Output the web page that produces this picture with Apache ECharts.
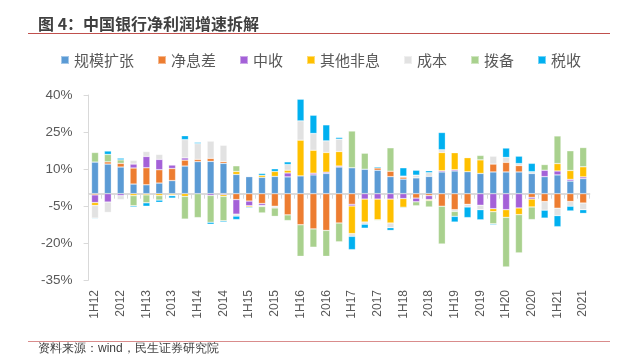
<!DOCTYPE html>
<html>
<head>
<meta charset="utf-8">
<script src="https://cdn.jsdelivr.net/npm/echarts@6/dist/echarts.min.js"></script>
<style>
html,body{margin:0;padding:0;background:#fff;}
#c{width:618px;height:360px;}
</style>
</head>
<body>
<div id="c"></div>
<script>
const categories = ['1H12','3Q12','2012','1Q13','1H13','3Q13','2013','1Q14','1H14','3Q14','2014','1Q15','1H15','3Q15','2015','1Q16','1H16','3Q16','2016','1Q17','1H17','3Q17','2017','1Q18','1H18','3Q18','2018','1Q19','1H19','3Q19','2019','1Q20','1H20','3Q20','2020','1Q21','1H21','3Q21','2021'];
const seriesNames = ['规模扩张','净息差','中收','其他非息','成本','拨备','税收'];
const scale = [12.8,12.0,10.8,3.9,3.6,4.3,5.3,11.2,13.0,13.1,12.3,7.8,6.9,6.6,7.0,6.8,7.2,7.6,8.2,10.8,10.5,9.9,9.5,6.9,5.9,6.4,7.0,8.8,9.2,8.9,8.2,8.8,8.8,8.8,8.2,6.9,7.6,5.1,6.1];
const nim = [-0.5,0.9,1.5,6.5,6.9,5.4,4.9,2.4,0.9,1.2,0.7,-2.4,-3.0,-4.0,-5.1,-8.6,-12.6,-14.3,-14.9,-11.9,-4.3,0,0.9,2.2,0.8,-1.8,-0.8,-5.1,-6.5,-4.3,0,3.2,3.9,2.6,-1.5,-3.2,-5.9,-3.2,-3.8];
const fee = [-3.1,-3.4,-0.8,1.6,4.6,4.2,1.4,0.9,0,-0.7,-0.4,-5.9,-1.9,-0.8,0,1.6,0,0.7,0.5,0.4,-0.7,-2.2,-2.2,-2.2,-2.0,-1.5,-1.6,0.5,0.5,0,-4.7,-6.1,-6.5,-5.8,-0.7,2.6,1.6,0.7,0.7];
const otherNonInt = [-1.2,0,0,-0.8,-0.5,-0.8,-0.5,-1.1,0,0,-0.7,1.2,-0.5,0.8,2.0,1.1,14.5,9.3,8.0,5.9,-11.2,-9.3,-8.4,-9.7,-3.5,0,-0.4,7.4,6.9,5.7,5.5,-1.2,-3.1,-2.7,-3.2,0,3.0,3.6,4.1];
const cost = [-5.1,-4.2,-1.6,1.5,2.0,2.0,-0.3,7.4,6.4,7.0,6.6,-0.8,0,-0.4,-0.7,2.3,7.8,6.8,4.7,5.0,-1.1,-0.9,0,-1.9,0.4,1.1,1.5,1.1,-0.7,-1.1,-1.8,3.2,2.0,0.8,0.7,-3.5,-3.0,-1.9,-2.7];
const provision = [3.9,3.0,1.4,-4.1,-3.2,-1.8,0,-9.2,-9.7,-10.9,-9.9,2.3,0,-2.6,-3.4,-2.3,-12.8,-7.4,-10.5,-7.6,14.9,6.5,-0.3,9.5,-0.4,-1.6,-2.6,-15.3,-2.0,0,1.8,-4.9,-20.1,-15.5,-5.1,2.3,11.2,8.0,7.8];
const tax = [-0.3,1.4,0.7,-0.5,-1.4,-0.9,-1.0,1.6,0.5,-0.8,-0.5,-1.4,-0.4,0.8,1.1,1.1,8.8,7.4,6.5,0.7,-5.4,-1.6,0.5,-1.1,3.4,2.0,0.8,7.0,-2.3,-4.3,-4.1,-0.4,3.8,3.0,3.4,-3.2,-4.5,-1.9,-1.5];
const yTicks = {min:-35, max:40, interval:15};

const seriesData = [scale, nim, fee, otherNonInt, cost, provision, tax];
const colors = ['#5B9BD5','#ED7D31','#A461D8','#FFC000','#E2E2E2','#A9D18E','#00B0F0'];

const chart = echarts.init(document.getElementById('c'), null, {renderer:'canvas'});
const cjk = '"Noto Sans CJK SC", "Noto Sans", sans-serif';
const option = {
  animation: false,
  backgroundColor: '#fff',
  color: colors,
  title: {
    text: '图 4：中国银行净利润增速拆解',
    left: 38, top: 16, padding: 0,
    textStyle: {fontSize: 16, fontWeight: 'bold', color: '#404040', fontFamily: cjk}
  },
  legend: {
    data: seriesNames,
    left: 60, top: 52, padding: 0,
    icon: 'rect', itemWidth: 8, itemHeight: 8, itemGap: 23,
    textStyle: {fontSize: 15, color: '#595959', fontFamily: cjk, lineHeight: 16}
  },
  grid: {left: 88.6, right: 28.4, top: 95, bottom: 80, containLabel: false},
  xAxis: [
    {
      type: 'category', data: categories, position: 'bottom',
      axisLine: {show: false, onZero: false},
      axisTick: {show: false},
      axisLabel: {interval: 1, rotate: 90, margin: 10, fontSize: 12, color: '#595959', fontFamily: '"Liberation Sans", sans-serif'}
    },
    {
      type: 'category', data: categories, position: 'bottom',
      axisLine: {show: true, onZero: true, lineStyle: {color: '#CFCFCF', width: 1.5}},
      axisTick: {show: true, interval: 0, length: 5, lineStyle: {color: '#D9D9D9'}},
      axisLabel: {show: false}
    }
  ],
  yAxis: {
    type: 'value', min: yTicks.min, max: yTicks.max, interval: yTicks.interval,
    axisLine: {show: true, lineStyle: {color: '#D9D9D9'}},
    axisTick: {show: true, length: 5, lineStyle: {color: '#D9D9D9'}},
    splitLine: {show: false},
    axisLabel: {formatter: '{value}%', fontSize: 13.5, margin: 16, color: '#595959', fontFamily: '"Liberation Sans", sans-serif'}
  },
  series: seriesNames.map((name, i) => ({
    name: name,
    type: 'bar',
    stack: 'total',
    xAxisIndex: 0,
    barWidth: 7,
    itemStyle: {color: colors[i], borderColor: 'rgba(255,255,255,0.45)', borderWidth: 0.6},
    data: seriesData[i].map(v => v === 0 ? null : v)
  })),
  graphic: [
    {type: 'line', shape: {x1: 28, y1: 33.5, x2: 610, y2: 33.5}, style: {stroke: '#C0504D', lineWidth: 1.2}},
    {type: 'line', shape: {x1: 28, y1: 341.5, x2: 610, y2: 341.5}, style: {stroke: '#D98C8C', lineWidth: 1.2}},
    {type: 'text', left: 38, top: 343, style: {text: '资料来源：wind，民生证券研究院', fontSize: 12, fill: '#404040', font: '12px "Noto Sans CJK SC", sans-serif'}}
  ]
};
chart.setOption(option);
</script>
</body>
</html>
